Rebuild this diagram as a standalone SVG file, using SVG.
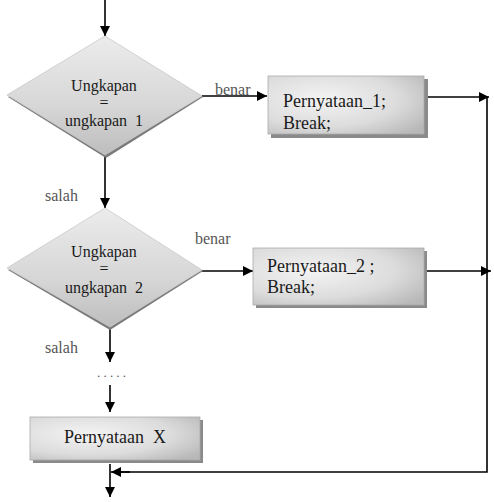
<svg xmlns="http://www.w3.org/2000/svg" width="494" height="502" viewBox="0 0 494 502">
<defs>
<linearGradient id="dg" x1="0" y1="0" x2="0" y2="1">
<stop offset="0" stop-color="#ececec"/>
<stop offset="0.6" stop-color="#d6d6d6"/>
<stop offset="1" stop-color="#bdbdbd"/>
</linearGradient>
<radialGradient id="bg" cx="0.35" cy="0.4" r="0.8">
<stop offset="0" stop-color="#f4f4f4"/>
<stop offset="0.6" stop-color="#dcdcdc"/>
<stop offset="1" stop-color="#b8b8b8"/>
</radialGradient>
<marker id="ah" viewBox="0 0 10 10" refX="10" refY="5" markerWidth="10" markerHeight="10" markerUnits="userSpaceOnUse" orient="auto">
<path d="M0,0 L10,5 L0,10 Z" fill="#000"/>
</marker>
</defs>
<style>
.dia{fill:url(#dg);stroke:#c8c8c8;stroke-width:0.8}
.dsh{fill:#7a7a7a}
.box{fill:url(#bg);stroke:#aaa;stroke-width:0.8}
.bsh{fill:#8a8a8a}
text{font-family:'Liberation Serif','Times New Roman','DejaVu Serif',serif}
.t{fill:#1a1a1a}
.dt{font-size:16px;text-anchor:middle}
.bt{font-size:18px}
.lb{font-size:16px;fill:#555}
.c{stroke:#000;stroke-width:1.6;fill:none}
.ca{stroke:#000;stroke-width:1.6;fill:none;marker-end:url(#ah)}
</style>
<rect width="494" height="502" fill="#fff"/>
<g id="connectors">
<line class="ca" x1="105" y1="0" x2="105" y2="36"/>
<line class="ca" x1="202" y1="96" x2="267" y2="96"/>
<line class="ca" x1="105" y1="155" x2="105" y2="208"/>
<line class="ca" x1="202" y1="271" x2="253" y2="271"/>
<line class="ca" x1="425" y1="97" x2="489" y2="97"/>
<line class="ca" x1="425" y1="271" x2="491" y2="271"/>
<polyline class="c" points="487,97 487,472 120,472"/>
<line class="ca" x1="130" y1="472" x2="111" y2="472"/>
<line class="ca" x1="110" y1="327" x2="110" y2="362"/>
<line class="ca" x1="110" y1="385" x2="110" y2="412"/>
<line class="ca" x1="110" y1="464" x2="110" y2="497"/>
<text class="lb" x="215" y="95" font-family="Liberation Serif, serif">benar</text>
<text class="lb" x="45" y="201" font-family="Liberation Serif, serif">salah</text>
<text class="lb" x="195" y="244" font-family="Liberation Serif, serif">benar</text>
<text class="lb" x="45" y="353" font-family="Liberation Serif, serif">salah</text>
<text class="lb" x="97" y="377" style="font-size:13px;letter-spacing:3.2px" font-family="Liberation Serif, serif">.....</text>
</g>
<g id="decision1">
<polygon class="dsh" points="105,38 203,97 106,158 8,97"/>
<polygon class="dia" points="105,36 202,96 105,155 7,95"/>
<text class="t dt" x="104" y="91">Ungkapan</text>
<text class="t dt" x="104" y="108">=</text>
<text class="t dt" x="104" y="126" style="white-space:pre">ungkapan  1</text>
</g>
<g id="statement1">
<rect class="bsh" x="271" y="79" width="157" height="59"/>
<rect class="box" x="268" y="76" width="156" height="58"/>
<text class="t bt" x="283" y="107">Pernyataan_1;</text>
<text class="t bt" x="283" y="129">Break;</text>
</g>
<g id="decision2">
<polygon class="dsh" points="105,210 203,271 110,330 8,270"/>
<polygon class="dia" points="105,208 202,270 110,327 7,268"/>
<text class="t dt" x="104" y="257">Ungkapan</text>
<text class="t dt" x="104" y="274">=</text>
<text class="t dt" x="104" y="293" style="white-space:pre">ungkapan  2</text>
</g>
<g id="statement2">
<rect class="bsh" x="256" y="251" width="171" height="57"/>
<rect class="box" x="253" y="248" width="171" height="57"/>
<text class="t bt" x="267" y="272">Pernyataan_2 ;</text>
<text class="t bt" x="267" y="293">Break;</text>
</g>
<g id="statementX">
<rect class="bsh" x="33" y="420" width="170" height="43"/>
<rect class="box" x="30" y="417" width="170" height="43"/>
<text class="t bt" x="115" y="443" text-anchor="middle" style="white-space:pre">Pernyataan  X</text>
</g>
</svg>
